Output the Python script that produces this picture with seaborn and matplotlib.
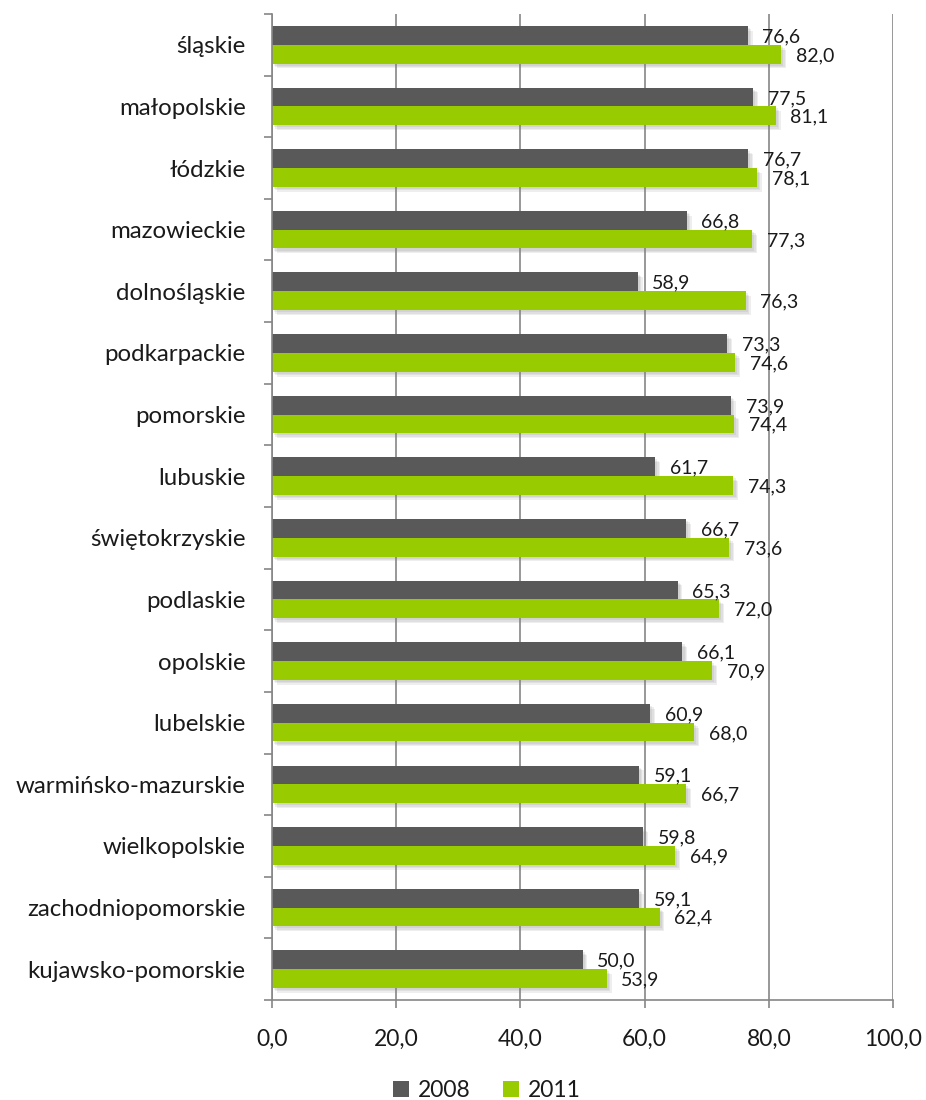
import numpy as np
import pandas as pd
import matplotlib
matplotlib.use("Agg")
import matplotlib.pyplot as plt
import matplotlib.patheffects as pe
from matplotlib.patches import Patch
import seaborn as sns

regions = ["śląskie", "małopolskie", "łódzkie", "mazowieckie", "dolnośląskie",
           "podkarpackie", "pomorskie", "lubuskie", "świętokrzyskie", "podlaskie",
           "opolskie", "lubelskie", "warmińsko-mazurskie", "wielkopolskie",
           "zachodniopomorskie", "kujawsko-pomorskie"]
values_2008 = [76.6, 77.5, 76.7, 66.8, 58.9, 73.3, 73.9, 61.7, 66.7, 65.3,
               66.1, 60.9, 59.1, 59.8, 59.1, 50.0]
values_2011 = [82.0, 81.1, 78.1, 77.3, 76.3, 74.6, 74.4, 74.3, 73.6, 72.0,
               70.9, 68.0, 66.7, 64.9, 62.4, 53.9]
years = ["2008", "2011"]
x_ticks = [0, 20, 40, 60, 80, 100]

colors = {"2008": "#595959", "2011": "#99CC00"}

df = pd.DataFrame({
    "region": regions * 2,
    "value": values_2008 + values_2011,
    "year": [years[0]] * len(regions) + [years[1]] * len(regions),
})

sns.set_theme(style="white")
plt.rcParams["font.family"] = ["Lato", "DejaVu Sans"]

fig = plt.figure(figsize=(9.26, 11), dpi=100)
ax = fig.add_axes([0.2937, 0.0909, 0.6707, 0.8964])

sns.barplot(data=df, y="region", x="value", hue="year", order=regions,
            hue_order=years, palette=colors, orient="h", width=0.61,
            saturation=1, ax=ax, legend=False)

# soft drop shadow built from a few faint offset copies
shadow = [pe.SimplePatchShadow(offset=(o, -o), shadow_rgbFace="#808080", alpha=0.13)
          for o in (3.5, 2.5, 1.5)] + [pe.Normal()]
for patch in ax.patches:
    patch.set_edgecolor("none")
    patch.set_path_effects(shadow)

# value labels at the bar ends
for cont in ax.containers:
    for bar, v in zip(cont, cont.datavalues):
        ax.annotate(f"{v:.1f}".replace(".", ","),
                    xy=(bar.get_width(), bar.get_y() + bar.get_height() / 2),
                    xytext=(10.5, -1), textcoords="offset points",
                    ha="left", va="center", fontsize=14, color="#1a1a1a")

ax.set_xlim(0, 100)
ax.set_ylim(len(regions) - 0.5, -0.5)
ax.set_xticks(x_ticks)
ax.set_xticklabels([f"{t:.1f}".replace(".", ",") for t in x_ticks], fontsize=16.5)
ax.tick_params(axis="x", length=6, width=1.2, color="#868686", pad=15,
               direction="out", bottom=True, labelcolor="#1a1a1a")
ax.tick_params(axis="y", which="major", length=0, pad=19, labelsize=17.3,
               labelcolor="#1a1a1a")
ax.set_yticks(np.arange(-0.5, len(regions) + 0.5, 1), minor=True)
ax.tick_params(axis="y", which="minor", length=6, width=1.2, color="#868686",
               direction="out", left=True)
ax.set_xlabel("")
ax.set_ylabel("")

ax.grid(axis="x", color="#868686", linewidth=1.2)
ax.set_axisbelow(True)
for side in ("top", "right"):
    ax.spines[side].set_visible(False)
for side in ("left", "bottom"):
    ax.spines[side].set_color("#868686")
    ax.spines[side].set_linewidth(1.2)

handles = [Patch(facecolor=colors[y], edgecolor="none", label=y) for y in years]
fig.legend(handles=handles, loc="lower center", bbox_to_anchor=(0.526, -0.02),
           ncol=2, frameon=False, fontsize=16.5, handlelength=0.7,
           handleheight=0.7, handletextpad=0.4, columnspacing=1.4,
           labelcolor="#1a1a1a")

fig.savefig("out.png", dpi=100)
